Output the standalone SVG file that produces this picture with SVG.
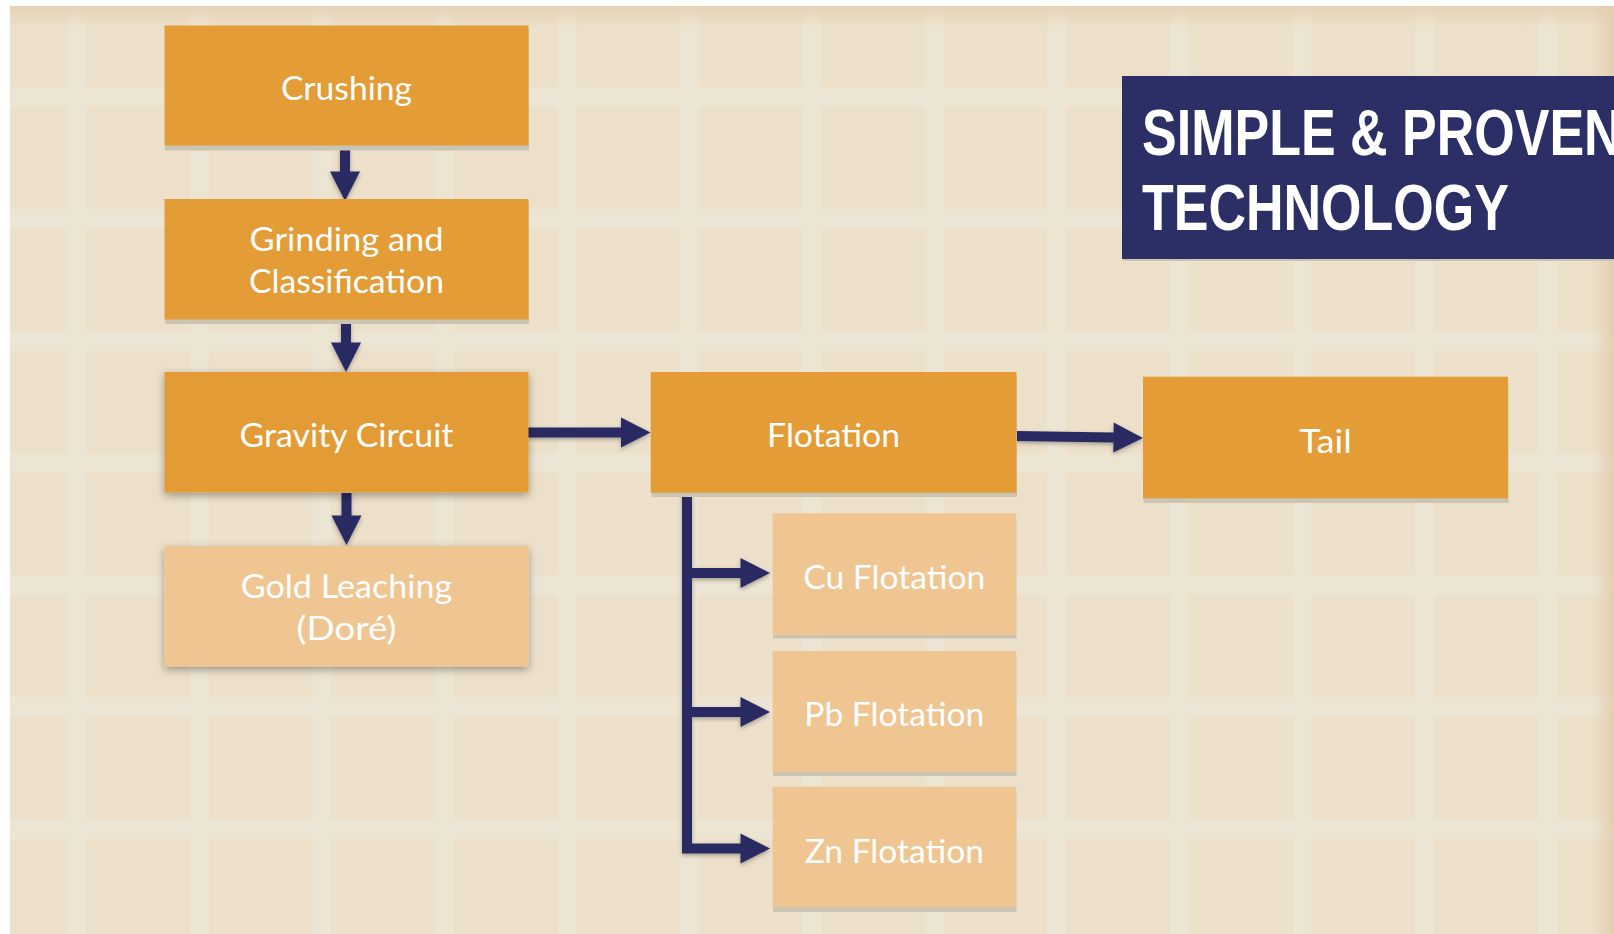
<svg xmlns="http://www.w3.org/2000/svg" width="1614" height="934" viewBox="0 0 1614 934">
<style>
.dk{fill:#E39C36}
.lt{fill:#EFC592}
.band{fill:#CCC4B2}
.t{font-family:Lato,"Open Sans","Liberation Sans",sans-serif;font-size:33.5px;fill:#FFFFFF;text-anchor:middle}
.ttl{font-family:"Liberation Sans",Arial,sans-serif;font-weight:bold;font-size:65px;fill:#FFFFFF}
.con{fill:none;stroke:#2A2C63;stroke-width:10;stroke-linecap:butt;stroke-linejoin:miter}
</style>
<defs>
<pattern id="grid" patternUnits="userSpaceOnUse" x="67.5" y="87.5" width="122.5" height="122">
<rect x="0" y="0" width="122.5" height="122" fill="#ECE0CA"/>
<rect x="0" y="0" width="19" height="122" fill="#EDE5D3"/>
<rect x="0" y="0" width="122.5" height="19" fill="#EDE5D3"/>
</pattern>
<linearGradient id="topg" x1="0" y1="0" x2="0" y2="1">
<stop offset="0" stop-color="#E4D0B2" stop-opacity="0.9"/>
<stop offset="1" stop-color="#E4D0B2" stop-opacity="0"/>
</linearGradient>
<linearGradient id="rg" x1="0" y1="0" x2="1" y2="0">
<stop offset="0" stop-color="#E2CDAE" stop-opacity="0"/>
<stop offset="1" stop-color="#E2CDAE" stop-opacity="0.95"/>
</linearGradient>
<filter id="soft" x="-10%" y="-20%" width="120%" height="150%">
<feDropShadow dx="0" dy="3" stdDeviation="4" flood-color="#000" flood-opacity="0.35"/>
</filter>
<filter id="ashadow" x="-20%" y="-20%" width="140%" height="160%">
<feDropShadow dx="0" dy="2" stdDeviation="2" flood-color="#000" flood-opacity="0.3"/>
</filter>
<marker id="ah" markerUnits="userSpaceOnUse" markerWidth="30" markerHeight="30" refX="0.5" refY="15" orient="auto" overflow="visible">
<path d="M0,0 L29.5,15 L0,30 Z" fill="#2A2C63"/>
</marker>
</defs>

<rect x="0" y="0" width="1614" height="934" fill="#FFFFFF"/>
<g id="background">
<rect x="10" y="6" width="1604" height="928" fill="url(#grid)"/>
<rect x="10" y="6" width="1604" height="22" fill="url(#topg)"/>
<rect x="1592" y="6" width="22" height="928" fill="url(#rg)"/>
</g>

<g id="title">
<rect x="1123" y="79" width="491" height="182" fill="#CBC3B2"/>
<rect x="1122" y="76" width="492" height="183" fill="#2C2E66"/>
<text class="ttl" transform="translate(1142,155) scale(0.8,1)">SIMPLE &amp; PROVEN</text>
<text class="ttl" transform="translate(1142,229.5) scale(0.8,1)">TECHNOLOGY</text>
</g>

<g id="connectors" filter="url(#ashadow)">
<path class="con" d="M345,147 V172" marker-end="url(#ah)"/>
<path class="con" d="M346,321 V343" marker-end="url(#ah)"/>
<path class="con" d="M346.5,493 V516" marker-end="url(#ah)"/>
<path class="con" d="M528,432.5 H621.5" marker-end="url(#ah)"/>
<path class="con" d="M1016,436 L1114,437.5" marker-end="url(#ah)"/>
<path class="con" d="M687,493 V848.5 H741" marker-end="url(#ah)"/>
<path class="con" d="M687,573 H741" marker-end="url(#ah)"/>
<path class="con" d="M687,712 H741" marker-end="url(#ah)"/>
</g>

<g id="crushing">
<rect class="band" x="165" y="29.5" width="364" height="121"/>
<rect class="dk" x="164.5" y="25.5" width="364" height="120"/>
<text class="t" x="346.5" y="100" textLength="131" lengthAdjust="spacingAndGlyphs">Crushing</text>
</g>

<g id="grinding">
<rect class="band" x="165" y="203.5" width="364" height="120.5"/>
<rect class="dk" x="164.5" y="199" width="364" height="120.5"/>
<text class="t" x="346.5" y="250.7" textLength="194" lengthAdjust="spacingAndGlyphs">Grinding and</text>
<text class="t" x="346.5" y="293.3" textLength="195" lengthAdjust="spacingAndGlyphs">Classification</text>
</g>

<g id="gravity">
<rect class="dk" x="164.5" y="372" width="364" height="120.5" filter="url(#soft)"/>
<text class="t" x="346.5" y="447.3" textLength="214" lengthAdjust="spacingAndGlyphs">Gravity Circuit</text>
</g>

<g id="gold">
<rect class="lt" x="164.5" y="546" width="364" height="120.5" filter="url(#soft)"/>
<text class="t" x="346.5" y="598.3" textLength="211.6" lengthAdjust="spacingAndGlyphs">Gold Leaching</text>
<text class="t" x="346.5" y="640" textLength="100" lengthAdjust="spacingAndGlyphs">(Doré)</text>
</g>

<g id="flotation">
<rect class="band" x="651.5" y="376.5" width="365.5" height="120.5"/>
<rect class="dk" x="650.7" y="372" width="365.8" height="120.7"/>
<text class="t" x="833.6" y="447.3" textLength="133" lengthAdjust="spacingAndGlyphs">Flotation</text>
</g>

<g id="tail">
<rect class="band" x="1143.5" y="381.5" width="365" height="121.5"/>
<rect class="dk" x="1143" y="376.7" width="365" height="121.6"/>
<text class="t" x="1325.5" y="452.7" textLength="52.5" lengthAdjust="spacingAndGlyphs">Tail</text>
</g>

<g id="cu">
<rect class="band" x="773" y="517.5" width="243.5" height="121"/>
<rect class="lt" x="772.6" y="513.3" width="243.4" height="121.7"/>
<text class="t" x="894.3" y="589.3" textLength="182" lengthAdjust="spacingAndGlyphs">Cu Flotation</text>
</g>

<g id="pb">
<rect class="band" x="773" y="655" width="243.5" height="121"/>
<rect class="lt" x="772.6" y="651" width="243.4" height="120.7"/>
<text class="t" x="894.3" y="726" textLength="180" lengthAdjust="spacingAndGlyphs">Pb Flotation</text>
</g>

<g id="zn">
<rect class="band" x="773" y="791" width="243.5" height="121"/>
<rect class="lt" x="772.6" y="786.7" width="243.4" height="120.3"/>
<text class="t" x="894.3" y="862.7" textLength="179.3" lengthAdjust="spacingAndGlyphs">Zn Flotation</text>
</g>
</svg>
